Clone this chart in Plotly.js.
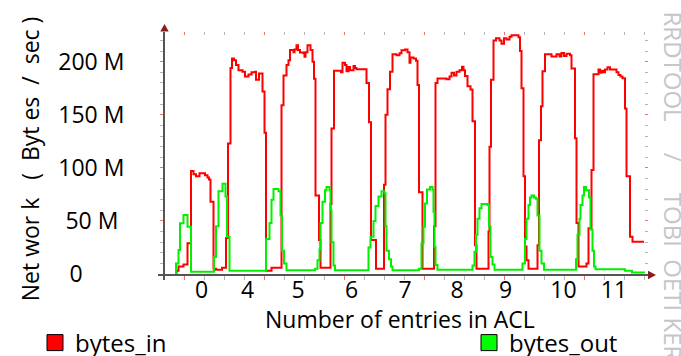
<!DOCTYPE html>
<html><head><meta charset="utf-8">
<script src="https://cdn.plot.ly/plotly-3.0.1.min.js"></script>
<style>html,body{margin:0;padding:0;background:#fff}#chart{width:681px;height:356px}</style>
</head><body><div id="chart"></div>
<script>
// ---- data (time index, values in M bytes/sec) ----
const inT = [10.5,11.5,13.5,18.5,22.5,26,28.5,31,34.5,40,42.5,44,45.5,48.5,51,57,61,63,65.5,67,69,71,73.5,77.5,80,83.5,86.5,90,91,94,97.5,99.5,101,106.5,116.5,118.5,121.5,123.5,125,128.5,129.5,131.5,133,135,138.5,139.5,140.5,142.5,145.5,147.5,149,150.5,154,155.5,165.5,166.5,169,176,177.5,180,181.5,183.5,185,188.5,190,191.5,201.5,204,206,211,219,220.5,222.5,225,227.5,231.5,234.5,236.5,240,242.5,244.5,245.5,248.5,251,252.5,254,257.5,269,270.5,272.5,281.5,284.5,286.5,289,291.5,294.5,297,298.5,300,302.5,305.5,307.5,310,311.5,323.5,324.5,326,328.5,331,334.5,336.5,339,341.5,344.5,346.5,353.5,355,356.5,358.5,360,361.5,363.5,372.5,374,376,377.5,380,386.5,391.5,394.5,396.5,399,401.5,405,406.5,410,411.5,413.5,421.5,423.5,426.5,428.5,433.5,435,436.5,438.5,440,442.5,445,451.5,453.5,455.5,457.5,460,461.5,465,467.5,479];
const inV = [0,3,7,9,29,97,94,92,95,93,91,89,68,5,4,6,34,123,194,203,201.5,197,192,190.5,186,188,190,190.5,183,189,172,133,3,6,159,187,197,201.5,211,209,211.6,215.6,211,208.6,208,204.6,209,215.6,211,200,184,74,32,6,66,137,191.5,190,199,197,191,195,192,196,194,193,180,143,32,5,84,150,174,190.5,207,206,208,210.8,211.5,209,199,204,203,201,178,77,5,45,180,184.3,183.5,186,189.6,187,190.6,192,195.3,192,186.5,177,173.8,144,27,5,40,120,183,220,222,220,217,222,221,223.5,225,223,210,175,92,26,13,5,27,126,158,191,207,205,207,205,208.3,205.5,207.5,206,193.7,128,48,7,10,43,98,188.3,192.7,189.5,191.5,190,192.7,194.7,192.7,190,187.4,186,184.5,156,92,35,30.4,30.4];
const outT = [10.5,11,13.5,15,18.5,22.5,26,49,51,53.5,57.5,60.5,62,64.5,101,104.5,106.5,108.5,113.5,115.5,117,119,121.5,150,152.5,154.5,155.5,157.5,160,161.5,164.5,165.5,166.5,168.5,170,203.5,205.5,208.5,210.5,213.5,216.5,219.5,220.5,221.5,224,226,227.5,254,256.5,258.5,260,262,265,267.5,268.5,269.5,270.5,272.5,307.5,309.5,311,312.5,314.5,316.5,322.5,324,325.5,327.5,329.5,357.5,360,361.5,363.5,365,366.5,369,371,372.5,374.5,376.5,379,411,412.5,414.5,415.5,417.5,419,421,424,425.5,427.5,429,430.5,460,467,479];
const outV = [0,10,22.6,47.7,55.6,44.5,2.2,16,45,78,85,73,35,3,33,48,70,80,78,55,22,10,3.5,5,13,23,48,68,79,82,79,60,30,8,3.5,25,35,50,64,73,78,76,45,22,14,7,3.5,5,29,44.6,66.5,79.7,82,79.7,58.7,25.7,8.5,4,8,21,37,52,62,66,65,45,16,9,4,10,33,52,65,72,74,72,71,55,22,10,4,14,37,52,65,74,82,79,72,42,22,7,4.4,3,1.5,1];
const xLabelPos = [36.5,82.5,133,186.5,240,292,340.5,398.5,449];
const xLabels = ['0','4','5','6','7','8','9','10','11'];
const yTickVals = [0,50,100,150,200];
const yTickText = ['0\u00a0\u00a0\u00a0\u00a0\u00a0\u00a0\u00a0','50 M\u00a0','100 M','150 M','200 M'];
const seriesNames = ['bytes_in','bytes_out'];
const seriesColors = ['#ff0000','#00f000'];
const legendColors = ['#ff0000','#00ff00'];
const xTitle = 'Number of entries in ACL';
const watermark = 'RRDTOOL\u00a0\u00a0\u00a0\u00a0\u00a0/\u00a0\u00a0\u00a0\u00a0\u00a0TOBI\u00a0\u00a0OETI KER';

const FONT = '"Open Sans", "Liberation Sans", sans-serif';
const L = 165, R = 648, T = 32, B = 274, W = 681, H = 356;
const px = x => (x - L) / (R - L);
const py = y => (B - y) / (B - T);
const nb = '\u00a0', zw = '\u200b';

const traces = [
  {x: inT, y: inV, mode: 'lines', line: {shape: 'hv', color: seriesColors[0], width: 2}, showlegend: false, hoverinfo: 'skip'},
  {x: outT, y: outV, mode: 'lines', line: {shape: 'hv', color: seriesColors[1], width: 2}, showlegend: false, hoverinfo: 'skip'},
  {x: [null], y: [null], xaxis: 'x2', yaxis: 'y', mode: 'markers', name: seriesNames[0], legend: 'legend',
   marker: {symbol: 'square', size: 16, color: legendColors[0], line: {color: '#000', width: 1}}},
  {x: [null], y: [null], xaxis: 'x3', yaxis: 'y', mode: 'markers', name: seriesNames[1], legend: 'legend2',
   marker: {symbol: 'square', size: 16, color: legendColors[1], line: {color: '#000', width: 1}}},
  {x: [null], y: [null], xaxis: 'x', yaxis: 'y2', mode: 'markers', showlegend: false, hoverinfo: 'skip'}
];

const majorRed = '#f07070', minorGray = '#b4b4b4', axisCol = '#555555';
const legendBase = {orientation: 'h', xref: 'container', yref: 'container', y: 13 / H,
  xanchor: 'left', yanchor: 'middle', font: {size: 24}, bgcolor: 'rgba(0,0,0,0)', itemsizing: 'trace'};

const layout = {
  width: W, height: H,
  margin: {l: L, r: W - R, t: T, b: H - B, pad: 0},
  paper_bgcolor: '#fff', plot_bgcolor: '#fff',
  font: {family: FONT, size: 23, color: '#000'},
  showlegend: true,
  legend: Object.assign({}, legendBase, {x: 35 / W}),
  legend2: Object.assign({}, legendBase, {x: 469 / W}),
  xaxis: {range: [0, R - L], showline: true, linecolor: axisCol, linewidth: 2, showgrid: false, zeroline: false,
    tickmode: 'linear', tick0: 19, dtick: 80, ticks: 'outside', ticklen: 4, tickcolor: majorRed, tickwidth: 1,
    showticklabels: false, fixedrange: true,
    minor: {tickmode: 'linear', tick0: 19, dtick: 20, ticks: 'outside', ticklen: 4, tickcolor: minorGray, tickwidth: 1, showgrid: false}},
  xaxis2: {overlaying: 'x', anchor: 'y', side: 'bottom', range: [0, R - L], tickmode: 'array',
    tickvals: xLabelPos, ticktext: xLabels, ticks: '', showline: false, showgrid: false, zeroline: false,
    ticklabelstandoff: 0},
  xaxis3: {overlaying: 'x', anchor: 'y', side: 'top', range: [0, R - L], tickmode: 'linear', tick0: 19, dtick: 80,
    ticks: 'inside', ticklen: 3, tickcolor: majorRed, showticklabels: false, showline: false, showgrid: false, zeroline: false,
    minor: {tickmode: 'linear', tick0: 19, dtick: 20, ticks: 'inside', ticklen: 3, tickcolor: minorGray, showgrid: false}},
  yaxis: {range: [0, 228], showline: true, linecolor: axisCol, linewidth: 2, showgrid: false, zeroline: false,
    tickmode: 'array', tickvals: yTickVals, ticktext: yTickText, ticks: 'outside', ticklen: 3, tickcolor: majorRed,
    minor: {tickmode: 'linear', tick0: 0, dtick: 10, ticks: 'outside', ticklen: 3, tickcolor: minorGray, showgrid: false},
    ticklabelstandoff: 31, fixedrange: true,
    title: {text: 'Net wor k' + nb.repeat(3) + '(' + nb + nb + 'Byt es' + nb + nb + '/' + nb + nb + 'sec' + nb + ')' + nb + nb + zw,
      standoff: 12, font: {size: 23}}},
  yaxis2: {overlaying: 'y', anchor: 'x', side: 'right', range: [0, 228], tickmode: 'linear', tick0: 0, dtick: 50,
    ticks: 'inside', ticklen: 3, tickcolor: majorRed, showticklabels: false, showline: false, showgrid: false, zeroline: false,
    minor: {tickmode: 'linear', tick0: 0, dtick: 10, ticks: 'inside', ticklen: 3, tickcolor: minorGray, showgrid: false}},
  shapes: [
    {type: 'line', xref: 'paper', yref: 'paper', x0: px(158), x1: px(165), y0: py(275), y1: py(275), line: {color: axisCol, width: 2}},
    {type: 'line', xref: 'paper', yref: 'paper', x0: px(164), x1: px(164), y0: py(275), y1: py(280), line: {color: axisCol, width: 2}},
    {type: 'path', xref: 'paper', yref: 'paper', fillcolor: '#8b1c1c', line: {width: 0},
     path: `M ${px(160.3)} ${py(31.5)} L ${px(164.5)} ${py(24)} L ${px(168.7)} ${py(31.5)} Z`},
    {type: 'path', xref: 'paper', yref: 'paper', fillcolor: '#8b1c1c', line: {width: 0},
     path: `M ${px(648)} ${py(270.8)} L ${px(656)} ${py(275)} L ${px(648)} ${py(279.2)} Z`}
  ],
  annotations: [
    {xref: 'paper', yref: 'paper', x: px(399.5), y: py(319), xanchor: 'center', yanchor: 'middle', showarrow: false,
     text: xTitle, font: {family: FONT, size: 23, color: '#000'}},
    {xref: 'paper', yref: 'paper', x: px(673), y: py(9), xanchor: 'center', yanchor: 'top', showarrow: false,
     textangle: 90, text: watermark, font: {family: FONT, size: 24, color: '#c6c6c6'}}
  ]
};

Plotly.newPlot('chart', traces, layout, {staticPlot: true, displayModeBar: false});
</script>
</body></html>
